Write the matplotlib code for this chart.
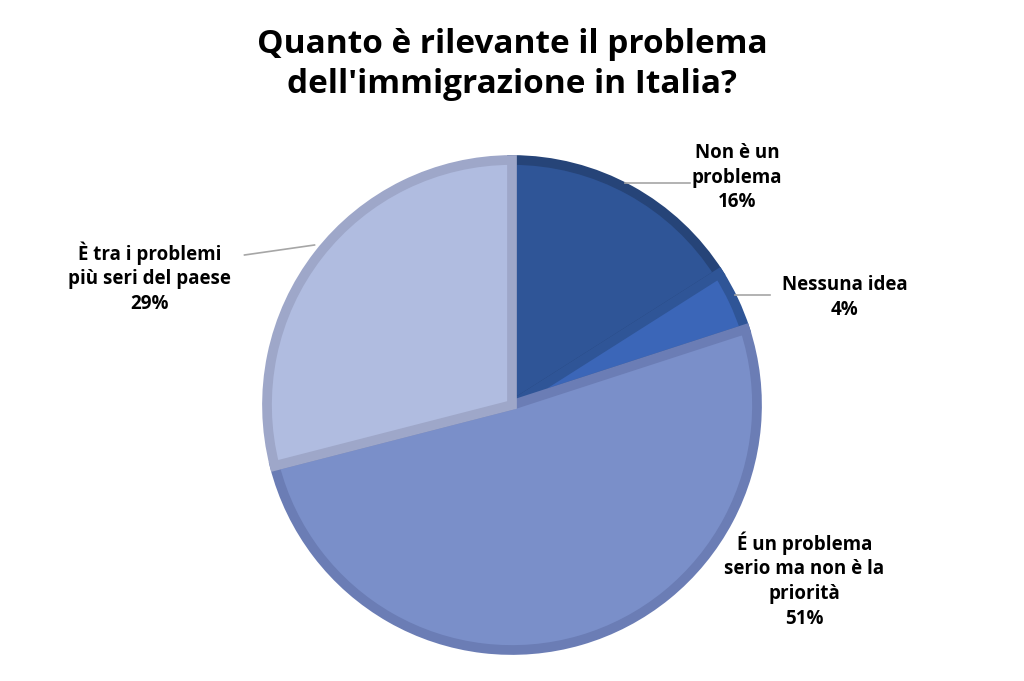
import matplotlib.pyplot as plt

labels = ["Non è un\nproblema\n16%", "Nessuna idea\n4%",
          "É un problema\nserio ma non è la\npriorità\n51%",
          "È tra i problemi\npiù seri del paese\n29%"]
values = [16, 4, 51, 29]
colors = ["#2F5597", "#3B66B8", "#7A8FC9", "#B0BCE0"]
edges = ["#264478", "#2F5597", "#6B7DB5", "#9EA7C9"]

plt.rcParams['font.family'] = ['Open Sans', 'DejaVu Sans']

fig = plt.figure(figsize=(10.24, 6.81), dpi=100)
ax = fig.add_axes([262 / 1024, 26 / 681, 500 / 1024, 500 / 681])
wedges, _ = ax.pie(values, colors=colors, startangle=90, counterclock=False,
                   radius=0.98, wedgeprops=dict(linewidth=0))
for w, ec in zip(wedges, edges):
    w.set_edgecolor(ec)
    w.set_linewidth(7)
    w.set_joinstyle('miter')
ax.set_xlim(-1, 1)
ax.set_ylim(-1, 1)
ax.set_aspect('equal')

label_pos = [(0.90, 0.91), (1.33, 0.43), (1.17, -0.70), (-1.45, 0.51)]
line_pts = [((0.71, 0.89), (0.45, 0.89)),
            ((1.03, 0.44), (0.89, 0.44)),
            (None, None),
            ((-1.07, 0.60), (-0.79, 0.64))]
for lab, (x, y), (a, b) in zip(labels, label_pos, line_pts):
    ax.text(x, y, lab, ha='center', va='center', fontsize=13.5,
            fontweight='bold', linespacing=1.3, clip_on=False)
    if a is not None:
        ax.plot([a[0], b[0]], [a[1], b[1]], color='#A6A6A6', lw=1.2, clip_on=False)

fig.text(0.5, 0.905, "Quanto è rilevante il problema\ndell'immigrazione in Italia?",
         ha='center', va='center', fontsize=24, fontweight='bold', linespacing=1.3)

fig.savefig('out.png', dpi=100)
